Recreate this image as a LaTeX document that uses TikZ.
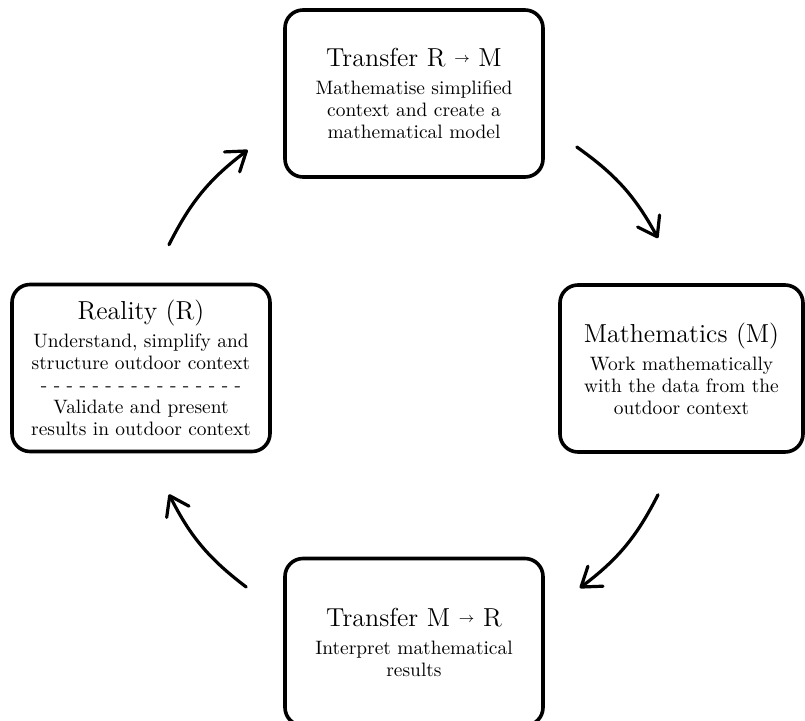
\documentclass[tikz,border=0pt]{standalone}
\usetikzlibrary{arrows.meta}
\newcommand{\boxtitle}[1]{{\fontsize{13}{15}\selectfont #1}}
\newcommand{\smallto}{\raisebox{2pt}{\fontsize{7}{7}\selectfont$\rightarrow$}}
\begin{document}
\begin{tikzpicture}[x=0.5pt,y=0.5pt,line cap=round,line join=round,>={Straight Barb[length=9pt,width=12.5pt,round]}]
	\tikzset{box/.style={draw,line width=1.8pt,rounded corners=9pt,align=center,
			minimum width=129pt,minimum height=83.5pt,inner sep=0pt,
			font=\fontsize{9.7}{11}\selectfont},
		cyc/.style={->,line width=1.6pt,bend left=13}
	}
	\useasboundingbox (0,0) rectangle (805,720);
	\node[box] (tRM) at (414,626.5) {\boxtitle{Transfer R \smallto{} M}\\[3pt]Mathematise simplified\\context and create a\\mathematical model};
	\node[box] (real) at (141,352) {\boxtitle{Reality (R)}\\[3pt]Understand, simplify and\\structure outdoor context\\- - - - - - - - - - - - - - - -\\Validate and present\\results in outdoor context};
	\node[box,minimum width=121.5pt] (math) at (681.5,351.5) {\boxtitle{Mathematics (M)}\\[3pt]Work mathematically\\with the data from the\\outdoor context};
	\node[box] (tMR) at (414,78) {\boxtitle{Transfer M \smallto{} R}\\[3pt]Interpret mathematical\\results};
	\draw[cyc] ([shift={(28,38)}]real.north) to ([shift={(-35.5,-56.5)}]tRM.west);
	\draw[cyc] ([shift={(32,-53.5)}]tRM.east) to ([shift={(-23.5,45)}]math.north);
	\draw[cyc] ([shift={(-23.5,-41)}]math.south) to ([shift={(35,54)}]tMR.east);
	\draw[cyc] ([shift={(-37,55)}]tMR.west) to ([shift={(28,-41)}]real.south);
\end{tikzpicture}
\end{document}
